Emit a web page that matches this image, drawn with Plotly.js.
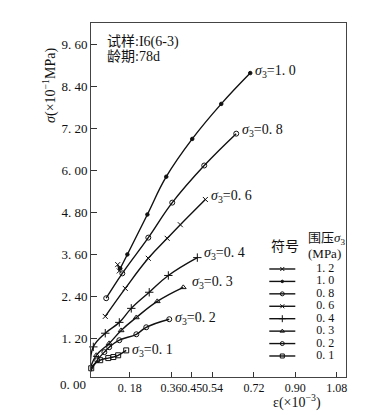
<!DOCTYPE html>
<html>
<head>
<meta charset="utf-8">
<script src="https://cdn.plot.ly/plotly-3.0.1.min.js"></script>
<style>html,body{margin:0;padding:0;background:#fff;}#chart{width:380px;height:415px;}</style>
</head>
<body>
<div id="chart"></div>
<script>
// ---- data (strain ε ×10^-3, stress σ ×10^-1 MPa) ----
const eps12 = [0.128, 0.135];
const sig12 = [3.30, 3.12];
const eps10 = [0.139, 0.170, 0.257, 0.339, 0.452, 0.578, 0.704];
const sig10 = [3.19, 3.59, 4.73, 5.81, 6.89, 7.89, 8.77];
const eps08 = [0.078, 0.148, 0.261, 0.365, 0.504, 0.643];
const sig08 = [2.34, 3.05, 4.07, 5.07, 6.13, 7.04];
const eps06 = [0.074, 0.161, 0.261, 0.343, 0.400, 0.509];
const sig06 = [1.82, 2.62, 3.48, 4.05, 4.44, 5.16];
const eps04 = [0.009, 0.022, 0.074, 0.135, 0.187, 0.265, 0.348, 0.474];
const sig04 = [0.40, 0.95, 1.34, 1.65, 2.05, 2.51, 2.99, 3.50];
const eps03 = [0.009, 0.035, 0.091, 0.143, 0.209, 0.300, 0.413];
const sig03 = [0.34, 0.71, 1.05, 1.42, 1.79, 2.25, 2.65];
const eps02 = [0.009, 0.039, 0.070, 0.091, 0.135, 0.209, 0.252, 0.352];
const sig02 = [0.23, 0.57, 0.80, 0.94, 1.14, 1.31, 1.51, 1.74];
const eps01 = [0.009, 0.013, 0.052, 0.087, 0.109, 0.130, 0.165];
const sig01 = [0.11, 0.34, 0.57, 0.63, 0.66, 0.71, 0.85];

const confining = ['1.2', '1.0', '0.8', '0.6', '0.4', '0.3', '0.2', '0.1'];
const legendLabels = ['1. 2', '1. 0', '0. 8', '0. 6', '0. 4', '0. 3', '0. 2', '0. 1'];
const curveLabels = ['', '1. 0', '0. 8', '0. 6', '0. 4', '0. 3', '0. 2', '0. 1'];
const xTickVals = [0.18, 0.36, 0.45, 0.54, 0.72, 0.90, 1.08];
const xTickText = ['0. 18', '0.36', '0.45', '0.54', '0.72', '0.90', '1.08'];
const yTickVals = [1.2, 2.4, 3.6, 4.8, 6.0, 7.2, 8.4, 9.6];
const yTickText = ['1. 20', '2. 40', '3. 60', '4. 80', '6. 00', '7. 20', '8. 40', '9. 60'];

const series = [
  {x: eps12, y: sig12}, {x: eps10, y: sig10}, {x: eps08, y: sig08}, {x: eps06, y: sig06},
  {x: eps04, y: sig04}, {x: eps03, y: sig03}, {x: eps02, y: sig02}, {x: eps01, y: sig01}
];
// ---- styles ----
const symbols = ['x-thin-open', 'circle', 'circle-open', 'x-thin-open', 'cross-thin-open', 'triangle-up-open', 'circle-open', 'square-open'];
const msizes = [5, 3.5, 5, 5, 6, 5, 5, 5];
const labelShift = [[0,0],[3,2],[4,3],[4,3],[5,4],[7,5],[4,1],[4,0]];

const FONT = 'Liberation Serif, "Noto Sans CJK SC", serif';
const INK = '#111';

const traces = [];
series.forEach((s, i) => {
  traces.push({
    x: s.x, y: s.y, type: 'scatter', mode: 'lines+markers',
    line: {color: INK, width: 1.4, shape: 'spline', smoothing: 1.2},
    marker: {symbol: symbols[i], size: msizes[i], color: INK, line: {color: INK, width: 1}},
    showlegend: false, hoverinfo: 'skip', cliponaxis: false
  });
});

// legend drawn on an overlaid hidden axis pair (rows indexed 0..7)
confining.forEach((c, i) => {
  traces.push({
    x: [269, 295], y: [i, i], xaxis: 'x2', yaxis: 'y2', type: 'scatter', mode: 'lines',
    line: {color: INK, width: 1.4}, showlegend: false, hoverinfo: 'skip'
  });
  traces.push({
    x: [282], y: [i], xaxis: 'x2', yaxis: 'y2', type: 'scatter', mode: 'markers',
    marker: {symbol: symbols[i], size: msizes[i] - 1, color: INK, line: {color: INK, width: 1}},
    showlegend: false, hoverinfo: 'skip'
  });
});
traces.push({
  x: legendLabels.map(() => 325), y: legendLabels.map((_, i) => i), text: legendLabels,
  xaxis: 'x2', yaxis: 'y2', type: 'scatter', mode: 'text',
  textfont: {family: FONT, size: 12, color: INK}, textposition: 'middle center',
  showlegend: false, hoverinfo: 'skip'
});

const annotations = [];
series.forEach((s, i) => {
  if (!curveLabels[i]) return;
  const n = s.x.length - 1;
  annotations.push({
    x: s.x[n], y: s.y[n], xref: 'x', yref: 'y', showarrow: false,
    xanchor: 'left', yanchor: 'middle', xshift: labelShift[i][0], yshift: labelShift[i][1],
    text: '<i>σ</i><sub>3</sub>=' + curveLabels[i],
    font: {family: FONT, size: 14, color: INK}
  });
});
annotations.push(
  {x: 0, y: -0.0089, xref: 'paper', yref: 'paper', xanchor: 'right', yanchor: 'middle', xshift: -3, yshift: -4,
   showarrow: false, text: '0. 00', font: {family: FONT, size: 13, color: INK}},
  {x: 0.055, y: 0.946, xref: 'paper', yref: 'paper', xanchor: 'left', yanchor: 'middle', showarrow: false,
   text: '试样:I6(6-3)', font: {family: FONT, size: 14, color: INK}},
  {x: 0.055, y: 0.904, xref: 'paper', yref: 'paper', xanchor: 'left', yanchor: 'middle', showarrow: false,
   text: '龄期:78d', font: {family: FONT, size: 14, color: INK}},
  {x: -0.161, y: 0.825, xref: 'paper', yref: 'paper', xanchor: 'center', yanchor: 'middle', showarrow: false,
   textangle: -90, text: '<i>σ</i>(×10<sup>−1</sup>MPa)', font: {family: FONT, size: 14, color: INK}},
  {x: 0.808, y: -0.0706, xref: 'paper', yref: 'paper', xanchor: 'center', yanchor: 'middle', showarrow: false,
   text: 'ε(×10<sup>−3</sup>)', font: {family: FONT, size: 14, color: INK}},
  {x: 285, y: -1.77, xref: 'x2', yref: 'y2', xanchor: 'center', yanchor: 'middle', showarrow: false,
   text: '符号', font: {family: FONT, size: 14, color: INK}},
  {x: 326, y: -2.45, xref: 'x2', yref: 'y2', xanchor: 'center', yanchor: 'middle', showarrow: false,
   text: '围压<i>σ</i><sub>3</sub>', font: {family: FONT, size: 13, color: INK}},
  {x: 324, y: -1.25, xref: 'x2', yref: 'y2', xanchor: 'center', yanchor: 'middle', showarrow: false,
   text: '(MPa)', font: {family: FONT, size: 13, color: INK}}
);

const layout = {
  width: 380, height: 415,
  margin: {l: 91, r: 34, t: 23, b: 38, pad: 0},
  paper_bgcolor: '#fff', plot_bgcolor: '#fff',
  showlegend: false,
  font: {family: FONT, size: 13, color: INK},
  xaxis: {
    range: [0.012, 1.12], tickvals: xTickVals, ticktext: xTickText, tickangle: 0,
    ticks: 'inside', ticklen: 5, tickcolor: '#333', tickwidth: 1,
    showline: true, linecolor: '#444', linewidth: 1, mirror: true,
    showgrid: false, zeroline: false, tickfont: {family: FONT, size: 12, color: INK}
  },
  yaxis: {
    range: [0.09, 10.2], tickvals: yTickVals, ticktext: yTickText, tickangle: 0,
    ticks: 'inside', ticklen: 6, tickcolor: '#333', tickwidth: 1,
    showline: true, linecolor: '#444', linewidth: 1, mirror: true,
    showgrid: false, zeroline: false, tickfont: {family: FONT, size: 13, color: INK}
  },
  xaxis2: {overlaying: 'x', anchor: 'y2', range: [90.7, 345.7], visible: false, showgrid: false, zeroline: false},
  yaxis2: {overlaying: 'y', anchor: 'x2', range: [8.69, -19.79], visible: false, showgrid: false, zeroline: false},
  annotations: annotations
};

Plotly.newPlot('chart', traces, layout, {displayModeBar: false, staticPlot: true});
</script>
</body>
</html>
